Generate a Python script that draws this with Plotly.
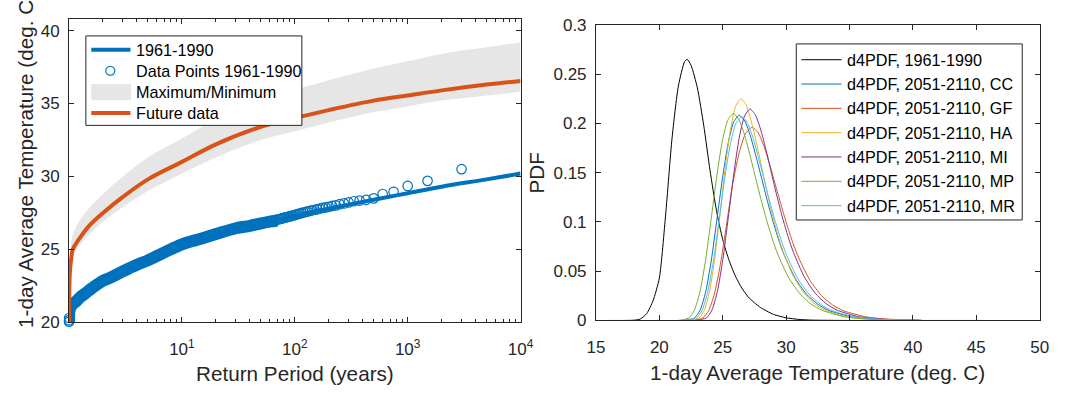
import plotly.graph_objects as go

# ---------------- Left panel: return-period curves ----------------
# Fitted return-level curve for 1961-1990
fit_T = [1.0004, 1.002, 1.01, 1.03, 1.1, 1.3, 1.6, 2, 3, 5, 10, 20, 50, 100,
         200, 500, 1000, 2000, 5000, 10000]
fit_temp = [20.0, 20.3, 20.7, 21.0, 21.35, 21.9, 22.4, 22.85, 23.5, 24.25, 25.35,
            26.0, 26.8, 27.3, 27.8, 28.4, 28.85, 29.3, 29.8, 30.2]

# Empirical points 1961-1990: the dense low-return-period body of the sample
dense_T = [1.0003, 1.001, 1.003, 1.01, 1.03, 1.06, 1.1, 1.16, 1.25, 1.4, 1.6, 2,
           2.3, 3, 4, 5, 7, 10, 15, 20, 30, 40, 50, 60, 70]
dense_temp = [19.9, 20.2, 20.5, 20.8, 21.0, 21.2, 21.3, 21.45, 21.7, 22.0, 22.35,
              22.85, 23.05, 23.5, 23.95, 24.25, 24.8, 25.35, 25.75, 26.05, 26.45,
              26.62, 26.78, 26.9, 26.98]

# Individual sample points (lowest values and the upper tail)
pts_T = [1.0003, 1.0007, 1.0012, 1.002, 1.003,
         3001, 1500, 1000, 750, 600, 500, 429,
         375.1, 333.4, 300.1, 272.8, 250.1, 230.8, 214.4, 200.1, 187.6, 176.5,
         166.7, 157.9, 150.1, 142.9, 136.4, 130.5, 125.0, 120.0, 115.4, 111.1,
         107.2, 103.5, 100.0, 96.8, 93.8, 90.9, 88.3, 85.7, 83.4, 81.1, 79.0,
         76.9, 75.0, 71.5, 68.2, 65.2, 62.5, 60.0, 56.6, 53.6, 50.0, 46.2, 42.9]
pts_temp = [19.9, 19.95, 20.05, 20.15, 20.3,
            30.5, 29.7, 29.35, 28.95, 28.8, 28.5, 28.4,
            28.35, 28.3, 28.22, 28.15, 28.1, 28.02, 27.98, 27.92, 27.88, 27.85,
            27.8, 27.75, 27.72, 27.68, 27.65, 27.6, 27.57, 27.53, 27.5, 27.46,
            27.43, 27.4, 27.36, 27.33, 27.3, 27.28, 27.25, 27.22, 27.2, 27.18,
            27.15, 27.13, 27.1, 27.06, 27.02, 26.98, 26.95, 26.92, 26.88, 26.84,
            26.8, 26.74, 26.68]

# Future projections: central curve and envelope
fut_T = [1.0004, 1.003, 1.01, 1.02, 1.04, 1.08, 1.2, 1.5, 2, 3, 5, 10, 20, 50, 100,
         200, 500, 1000, 2000, 5000, 10000]
fut_temp = [20.0, 21.5, 22.8, 23.6, 24.2, 25.0, 25.6, 26.6, 27.5, 28.6, 29.8, 31.0,
            32.2, 33.4, 34.0, 34.55, 35.2, 35.55, 35.9, 36.3, 36.55]
fut_max = [20.3, 22.2, 23.6, 24.5, 25.2, 26.0, 26.8, 27.8, 28.8, 30.0, 31.3, 32.6,
           33.9, 35.2, 35.95, 36.6, 37.4, 37.9, 38.4, 38.85, 39.2]
fut_min = [20.0, 21.2, 22.4, 23.2, 23.8, 24.6, 25.1, 26.0, 26.9, 27.9, 29.0, 30.2,
           31.3, 32.5, 33.1, 33.7, 34.4, 34.8, 35.2, 35.55, 35.8]

# ---------------- Right panel: probability density functions ----------------
base_x = [16, 17, 18, 18.5, 19, 19.5, 20, 20.5, 21, 21.5, 22, 22.2, 22.5, 23, 23.5,
          24, 24.5, 25, 25.5, 26, 26.5, 27, 27.5, 28, 29, 30, 31, 32, 34, 36, 45.5]
base_pdf = [0, 0, 0.0003, 0.0015, 0.007, 0.02, 0.043, 0.108, 0.185, 0.238, 0.263,
            0.265, 0.259, 0.236, 0.198, 0.152, 0.112, 0.082, 0.061, 0.045, 0.033,
            0.024, 0.018, 0.013, 0.0062, 0.0027, 0.0011, 0.0004, 0.0001, 0, 0]

cc_x = [19.8, 21.89, 22.77, 23.21, 23.65, 24.09, 24.53, 24.98, 25.42, 25.86, 26.30,
        26.74, 27.18, 27.62, 28.07, 28.51, 28.95, 29.39, 29.83, 30.72, 31.60, 32.48,
        33.36, 35.13, 36.90, 40.43, 40.7]
cc_pdf = [0, 0.00004, 0.0026, 0.0103, 0.0287, 0.0603, 0.1016, 0.1444, 0.1795, 0.2014,
          0.2083, 0.2024, 0.1873, 0.1668, 0.1442, 0.1218, 0.1011, 0.0827, 0.0669,
          0.0428, 0.0268, 0.0166, 0.0102, 0.0038, 0.0014, 0.0002, 0]

gf_x = [19.8, 22.47, 23.41, 23.88, 24.34, 24.81, 25.28, 25.75, 26.27, 26.79, 27.32,
        27.80, 28.27, 28.74, 29.20, 29.66, 30.11, 30.56, 31.01, 31.90, 32.79, 33.68,
        34.57, 36.35, 38.12, 40.30, 40.7]
gf_pdf = [0, 0.00003, 0.0024, 0.0097, 0.0270, 0.0567, 0.0956, 0.1358, 0.1689, 0.1895,
          0.1960, 0.1904, 0.1762, 0.1569, 0.1357, 0.1146, 0.0951, 0.0778, 0.0630,
          0.0403, 0.0253, 0.0156, 0.0096, 0.0036, 0.0013, 0.0005, 0]

ha_x = [19.8, 22.34, 23.16, 23.57, 23.98, 24.39, 24.80, 25.20, 25.61, 26.02, 26.43,
        26.84, 27.25, 27.66, 28.07, 28.47, 28.88, 29.29, 29.70, 30.52, 31.34, 32.15,
        32.97, 34.61, 36.24, 39.51, 40.7]
ha_pdf = [0, 0.00004, 0.0028, 0.0111, 0.0310, 0.0651, 0.1097, 0.1559, 0.1939, 0.2175,
          0.2250, 0.2186, 0.2023, 0.1801, 0.1557, 0.1316, 0.1092, 0.0893, 0.0723,
          0.0462, 0.0290, 0.0179, 0.0110, 0.0041, 0.0015, 0.0002, 0]

mi_x = [19.8, 22.87, 23.72, 24.15, 24.58, 25.01, 25.44, 25.87, 26.29, 26.72, 27.15,
        27.58, 28.01, 28.44, 28.86, 29.29, 29.72, 30.15, 30.58, 31.44, 32.29, 33.15,
        34.01, 35.72, 37.43, 40.0, 40.7]
mi_pdf = [0, 0.00004, 0.0027, 0.0106, 0.0296, 0.0621, 0.1047, 0.1487, 0.1849, 0.2075,
          0.2146, 0.2085, 0.1929, 0.1718, 0.1485, 0.1255, 0.1041, 0.0852, 0.0690,
          0.0441, 0.0277, 0.0171, 0.0105, 0.0039, 0.0014, 0.0003, 0]

mp_x = [19.8, 21.45, 22.33, 22.76, 23.20, 23.64, 24.08, 24.52, 24.95, 25.39, 25.83,
        26.27, 26.71, 27.14, 27.58, 28.02, 28.46, 28.90, 29.33, 30.21, 31.09, 31.96,
        32.84, 34.59, 36.34, 39.85, 40.7]
mp_pdf = [0, 0.00004, 0.0026, 0.0104, 0.0289, 0.0608, 0.1024, 0.1455, 0.1809, 0.2030,
          0.2100, 0.2040, 0.1888, 0.1681, 0.1453, 0.1228, 0.1019, 0.0833, 0.0675,
          0.0432, 0.0271, 0.0167, 0.0103, 0.0038, 0.0014, 0.0002, 0]

mr_x = [19.8, 22.04, 22.93, 23.37, 23.81, 24.26, 24.70, 25.15, 25.59, 26.04, 26.48,
        26.92, 27.37, 27.81, 28.26, 28.70, 29.15, 29.59, 30.03, 30.92, 31.81, 32.70,
        33.59, 35.37, 37.14, 40.70]
mr_pdf = [0, 0.00004, 0.0026, 0.0102, 0.0285, 0.0599, 0.1009, 0.1434, 0.1784, 0.2001,
          0.2070, 0.2011, 0.1861, 0.1657, 0.1433, 0.1210, 0.1004, 0.0822, 0.0665,
          0.0425, 0.0267, 0.0165, 0.0101, 0.0038, 0.0014, 0.0002]

pdf_labels = ["d4PDF, 1961-1990", "d4PDF, 2051-2110, CC", "d4PDF, 2051-2110, GF",
              "d4PDF, 2051-2110, HA", "d4PDF, 2051-2110, MI", "d4PDF, 2051-2110, MP",
              "d4PDF, 2051-2110, MR"]
pdf_colors = ["#000000", "#0072BD", "#D95319", "#EDB120", "#7E2F8E", "#77AC30", "#4DBEEE"]
pdf_series = [(base_x, base_pdf), (cc_x, cc_pdf), (gf_x, gf_pdf), (ha_x, ha_pdf),
              (mi_x, mi_pdf), (mp_x, mp_pdf), (mr_x, mr_pdf)]

left_labels = ["1961-1990", "Data Points 1961-1990", "Maximum/Minimum", "Future data"]

BLUE = "#0072BD"
ORANGE = "#D95319"
BAND = "#E6E6E6"
AX = "#262626"
FONT = "Liberation Sans, Arial, Helvetica, sans-serif"

W, H = 1070, 393


def px(x):
    return x / W


def py(y):
    return 1 - y / H


fig = go.Figure()

# envelope of the future projections
fig.add_trace(go.Scatter(x=fut_T, y=fut_min, mode="lines", line=dict(width=0, shape="spline"),
                         hoverinfo="skip", showlegend=False, xaxis="x", yaxis="y"))
fig.add_trace(go.Scatter(x=fut_T, y=fut_max, mode="lines", line=dict(width=0, shape="spline"),
                         fill="tonexty", fillcolor=BAND, showlegend=False,
                         xaxis="x", yaxis="y"))
# dense body of the empirical sample
fig.add_trace(go.Scatter(x=dense_T, y=dense_temp, mode="lines",
                         line=dict(color=BLUE, width=12, shape="spline"), showlegend=False,
                         xaxis="x", yaxis="y"))
fig.add_trace(go.Scatter(x=pts_T, y=pts_temp, mode="markers", cliponaxis=False,
                         marker=dict(symbol="circle-open", size=9.5,
                                     line=dict(color=BLUE, width=1.2), color=BLUE),
                         showlegend=False, xaxis="x", yaxis="y"))
fig.add_trace(go.Scatter(x=fit_T, y=fit_temp, mode="lines",
                         line=dict(color=BLUE, width=4, shape="spline"),
                         showlegend=False, xaxis="x", yaxis="y"))
fig.add_trace(go.Scatter(x=fut_T, y=fut_temp, mode="lines",
                         line=dict(color=ORANGE, width=4, shape="spline"),
                         showlegend=False, xaxis="x", yaxis="y"))

for (xs, ys), col, name in zip(pdf_series, pdf_colors, pdf_labels):
    fig.add_trace(go.Scatter(x=xs, y=ys, mode="lines", name=name,
                             line=dict(color=col, width=1, shape="spline", smoothing=0.6),
                             showlegend=False, xaxis="x2", yaxis="y2"))

axis_common = dict(showline=True, linecolor=AX, linewidth=1, mirror="allticks",
                   ticks="inside", ticklen=5, tickcolor=AX, tickwidth=1,
                   showgrid=False, zeroline=False,
                   tickfont=dict(family=FONT, size=17, color=AX))

fig.update_layout(
    width=W, height=H, margin=dict(l=0, r=0, t=0, b=0),
    paper_bgcolor="white", plot_bgcolor="white", showlegend=False,
    xaxis=dict(domain=[px(61.3), px(522.3)], type="log",
               range=[0.00017, 4],
               tickvals=[10, 100, 1000, 10000],
               ticktext=["10<sup>1</sup>", "10<sup>2</sup>", "10<sup>3</sup>", "10<sup>4</sup>"],
               minor=dict(tickvals=[m * d for d in (1, 10, 100, 1000) for m in range(2, 10)],
                          ticks="inside", ticklen=3, tickcolor=AX),
               ticklabelstandoff=11, anchor="y", **axis_common),
    yaxis=dict(domain=[py(329.3), py(10.7)], range=[20, 40.78],
               tickvals=[20, 25, 30, 35, 40], ticklabelstandoff=5, anchor="x",
               **axis_common),
    xaxis2=dict(domain=[px(599.3), px(1052.3)], range=[15, 50], dtick=5, tick0=15,
                ticklabelstandoff=11, anchor="y2", **axis_common),
    yaxis2=dict(domain=[py(327.3), py(16.7)], range=[0, 0.3],
                tickvals=[0, 0.05, 0.1, 0.15, 0.2, 0.25, 0.3],
                ticktext=["0", "0.05", "0.1", "0.15", "0.2", "0.25", "0.3"],
                ticklabelstandoff=5, anchor="x2", **axis_common),
)

shapes = []
annotations = []

# axis titles
title_font = dict(family=FONT, size=20.7, color=AX)
annotations += [
    dict(x=px(291.8), y=py(383), text="Return Period (years)", showarrow=False,
         xref="paper", yref="paper", xanchor="center", yanchor="middle", font=title_font),
    dict(x=px(17), y=py(159), text="1-day Average Temperature (deg. C)", showarrow=False,
         textangle=-90, xref="paper", yref="paper", xanchor="center", yanchor="middle",
         font=title_font),
    dict(x=px(825.8), y=py(382), text="1-day Average Temperature (deg. C)", showarrow=False,
         xref="paper", yref="paper", xanchor="center", yanchor="middle", font=title_font),
    dict(x=px(539), y=py(172), text="PDF", showarrow=False, textangle=-90,
         xref="paper", yref="paper", xanchor="center", yanchor="middle", font=title_font),
]

leg_font = dict(family=FONT, size=16.2, color="#000000")

# legend of the left panel
shapes.append(dict(type="rect", xref="paper", yref="paper", x0=px(78.5), x1=px(299),
                   y0=py(122.3), y1=py(28.3), line=dict(color=AX, width=1),
                   fillcolor="white", layer="above"))
left_rows = [42.7, 65.0, 87.3, 109.3]
shapes.append(dict(type="line", xref="paper", yref="paper", x0=px(84), x1=px(124),
                   y0=py(left_rows[0]), y1=py(left_rows[0]),
                   line=dict(color=BLUE, width=4), layer="above"))
shapes.append(dict(type="circle", xref="paper", yref="paper", x0=px(103.4 - 4.6),
                   x1=px(103.4 + 4.6), y0=py(left_rows[1] + 4.6), y1=py(left_rows[1] - 4.6),
                   line=dict(color=BLUE, width=1.2), layer="above"))
shapes.append(dict(type="rect", xref="paper", yref="paper", x0=px(84), x1=px(124.7),
                   y0=py(left_rows[2] + 8.5), y1=py(left_rows[2] - 8.5),
                   line=dict(width=0), fillcolor=BAND, layer="above"))
shapes.append(dict(type="line", xref="paper", yref="paper", x0=px(84), x1=px(124),
                   y0=py(left_rows[3]), y1=py(left_rows[3]),
                   line=dict(color=ORANGE, width=4), layer="above"))
for yy, lab in zip(left_rows, left_labels):
    annotations.append(dict(x=px(127.5), y=py(yy), text=lab, showarrow=False,
                            xref="paper", yref="paper", xanchor="left", yanchor="middle",
                            font=leg_font))

# legend of the right panel
shapes.append(dict(type="rect", xref="paper", yref="paper", x0=px(803.8), x1=px(1034.5),
                   y0=py(221.7), y1=py(36.7), line=dict(color=AX, width=1),
                   fillcolor="white", layer="above"))
for i, (lab, col) in enumerate(zip(pdf_labels, pdf_colors)):
    yy = 53.3 + 25.55 * i
    shapes.append(dict(type="line", xref="paper", yref="paper", x0=px(809), x1=px(850),
                       y0=py(yy), y1=py(yy), line=dict(color=col, width=1), layer="above"))
    annotations.append(dict(x=px(853.6), y=py(yy), text=lab, showarrow=False,
                            xref="paper", yref="paper", xanchor="left", yanchor="middle",
                            font=leg_font))

fig.update_layout(shapes=shapes, annotations=annotations)

fig.write_html("out.html")
